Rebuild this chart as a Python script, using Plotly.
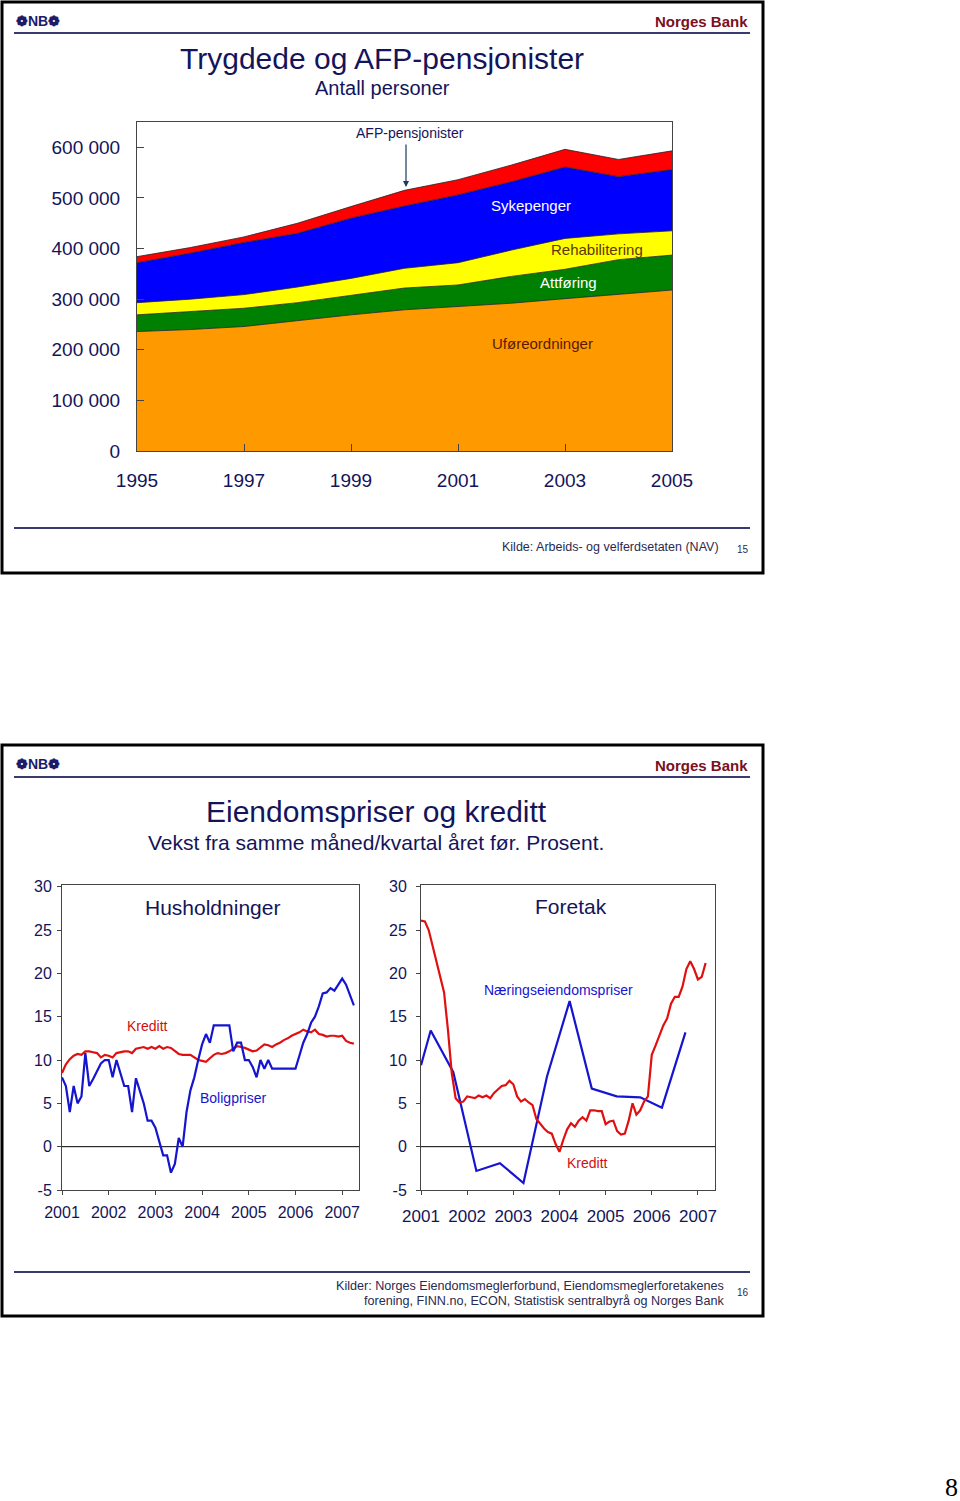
import plotly.graph_objects as go

W, H = 960, 1501

# ---------------- Data: chart 1 ----------------
years1 = [1995, 1996, 1997, 1998, 1999, 2000, 2001, 2002, 2003, 2004, 2005]
uforeordninger = [236000, 240000, 246000, 258000, 269000, 279000, 286000, 292000, 301000, 310000, 318000]
attforing = [33000, 36000, 36000, 35000, 38000, 43000, 42000, 53000, 58000, 68000, 69000]
rehabilitering = [24000, 24000, 27000, 31000, 34000, 39000, 44000, 52000, 61000, 51000, 48000]
sykepenger = [79000, 91000, 103000, 106000, 119000, 123000, 134000, 135000, 141000, 113000, 121000]
afp = [12000, 11000, 11000, 20000, 23000, 31000, 30000, 33000, 35000, 34000, 37000]
y1_ticks = [0, 100000, 200000, 300000, 400000, 500000, 600000]
y1_labels = ["0", "100 000", "200 000", "300 000", "400 000", "500 000", "600 000"]
x1_ticks = [1995, 1997, 1999, 2001, 2003, 2005]

# ---------------- Data: chart 2 (households, monthly from Jan 2001) ----------------
boligpriser = [8, 7, 4, 7, 5, 5.8, 10.8, 7, 7.8, 8.8, 9.6, 10, 10, 8, 10, 8.5, 7, 7, 4, 7.9,
               6.5, 5, 3, 3, 2.2, 0.5, -1, -1, -3, -2, 1, 0, 4, 6.5, 8, 10, 11.8, 13, 12, 14,
               14, 14, 14, 14, 11, 12, 12, 10, 10, 9.2, 8, 10, 9, 10, 9, 9, 9, 9, 9, 9,
               9, 10.5, 12, 13, 14.3, 15, 16.2, 17.7, 17.8, 18.3, 18, 18.7, 19.4, 18.7, 17.5, 16.3]
kreditt_hh = [8.5, 9.5, 10.1, 10.5, 10.7, 10.6, 11.0, 11.0, 10.9, 10.8, 10.3, 10.6, 10.5, 10.3, 10.8,
              10.9, 11.0, 11.0, 10.8, 11.3, 11.4, 11.5, 11.3, 11.5, 11.3, 11.6, 11.3, 11.5, 11.4, 11.0,
              10.7, 10.6, 10.6, 10.6, 10.3, 10.0, 9.9, 9.8, 10.2, 10.6, 10.8, 10.7, 10.8, 11.0, 11.3,
              11.6, 11.5, 11.4, 11.2, 11.0, 11.1, 11.4, 11.8, 11.7, 11.5, 11.8, 12.0, 12.3, 12.5, 12.8,
              13.0, 13.2, 13.5, 13.3, 13.2, 13.5, 13.0, 12.9, 12.7, 12.8, 12.8, 12.7, 12.8, 12.2, 12.0, 11.9]

# ---------------- Data: chart 3 (enterprises) ----------------
naering_x = [2001.0, 2001.21, 2001.70, 2002.20, 2002.71, 2003.22, 2003.73, 2004.22, 2004.70,
             2005.24, 2005.75, 2006.22, 2006.73]
naering = [9.4, 13.4, 8.6, -2.8, -1.9, -4.2, 8.1, 16.8, 6.7, 5.8, 5.7, 4.5, 13.2]
kreditt_ft = [26.1, 26.0, 25.0, 23.2, 21.5, 19.6, 17.8, 13.5, 8.5, 5.6, 5.1, 5.2, 5.8, 5.7, 5.6,
              5.9, 5.7, 5.9, 5.6, 6.2, 6.6, 7.0, 7.1, 7.6, 7.2, 5.8, 5.2, 5.5, 5.1, 4.8,
              3.2, 2.6, 2.1, 1.7, 1.5, 0.3, -0.6, 0.8, 2.0, 2.7, 2.3, 3.0, 3.4, 3.0, 4.2,
              4.2, 4.1, 4.1, 2.6, 2.9, 3.0, 1.8, 1.4, 1.5, 3.0, 5.0, 3.7, 4.2, 5.2, 5.8,
              10.6, 11.7, 12.8, 14.0, 14.8, 16.5, 17.3, 17.3, 18.5, 20.5, 21.4, 20.5, 19.3, 19.6, 21.2]
y2_ticks = [-5, 0, 5, 10, 15, 20, 25, 30]
y2_labels = ["-5", "0", "5", "10", "15", "20", "25", "30"]
x2_ticks = [2001, 2002, 2003, 2004, 2005, 2006, 2007]

months_hh = [2001 + i / 12 for i in range(len(boligpriser))]
months_ft = [2001 + i / 12 for i in range(len(kreditt_ft))]

NAVY = "#1c1c6b"
TXT = "#14145a"
DARKRED = "#7a1020"
FONT = "Liberation Sans, Arial, sans-serif"


def px(x):
    return x / W


def py(y):
    return 1 - y / H


fig = go.Figure()

# ---- stacked areas ----
stack = [
    ("Uføreordninger", uforeordninger, "#FF9900"),
    ("Attføring", attforing, "#008000"),
    ("Rehabilitering", rehabilitering, "#FFFF00"),
    ("Sykepenger", sykepenger, "#0000FF"),
    ("AFP-pensjonister", afp, "#FF0000"),
]
for name, vals, col in stack:
    fig.add_trace(go.Scatter(x=years1, y=vals, name=name, stackgroup="one", mode="lines",
                             line=dict(color="#222222", width=0.8), fillcolor=col,
                             xaxis="x", yaxis="y", showlegend=False, hoverinfo="skip"))

# ---- households ----
fig.add_trace(go.Scatter(x=[2001, 2007.36], y=[0, 0], mode="lines", line=dict(color="black", width=1),
                         xaxis="x2", yaxis="y2", showlegend=False, hoverinfo="skip"))
fig.add_trace(go.Scatter(x=months_hh, y=kreditt_hh, mode="lines", line=dict(color="#E01010", width=2.2),
                         xaxis="x2", yaxis="y2", showlegend=False, name="Kreditt"))
fig.add_trace(go.Scatter(x=months_hh, y=boligpriser, mode="lines", line=dict(color="#1515D0", width=2.2),
                         xaxis="x2", yaxis="y2", showlegend=False, name="Boligpriser"))

# ---- enterprises ----
fig.add_trace(go.Scatter(x=[2001, 2007.37], y=[0, 0], mode="lines", line=dict(color="black", width=1),
                         xaxis="x3", yaxis="y3", showlegend=False, hoverinfo="skip"))
fig.add_trace(go.Scatter(x=naering_x, y=naering, mode="lines", line=dict(color="#1515D0", width=2.2),
                         xaxis="x3", yaxis="y3", showlegend=False, name="Næringseiendomspriser"))
fig.add_trace(go.Scatter(x=months_ft, y=kreditt_ft, mode="lines", line=dict(color="#E01010", width=2.2),
                         xaxis="x3", yaxis="y3", showlegend=False, name="Kreditt"))

axis_common = dict(showgrid=False, zeroline=False, showline=True, linecolor="#444444", linewidth=1,
                   mirror=True, tickcolor="#444444", automargin=False)

fig.update_layout(
    width=W, height=H, margin=dict(l=0, r=0, t=0, b=0, pad=0, autoexpand=False),
    paper_bgcolor="white", plot_bgcolor="white",
    font=dict(family=FONT, color=TXT),
    xaxis=dict(domain=[px(137), px(672)], range=[1995, 2005], tickvals=x1_ticks,
               ticks="inside", ticklen=7, tickfont=dict(size=19, color=TXT, family=FONT),
               ticklabelstandoff=12, anchor="y", **axis_common),
    yaxis=dict(domain=[py(451), py(122)], range=[0, 650000], tickvals=y1_ticks, ticktext=y1_labels,
               ticks="inside", ticklen=7, tickfont=dict(size=19, color=TXT, family=FONT),
               ticklabelstandoff=12, anchor="x", **axis_common),
    xaxis2=dict(domain=[px(62), px(359)], range=[2001, 2007.36], tickvals=x2_ticks,
                ticks="outside", ticklen=4, tickfont=dict(size=16, color=TXT, family=FONT),
                ticklabelstandoff=4, anchor="y2", **axis_common),
    yaxis2=dict(domain=[py(1190), py(885)], range=[-5, 30.2], tickvals=y2_ticks, ticktext=y2_labels,
                ticks="outside", ticklen=4, tickfont=dict(size=16, color=TXT, family=FONT),
                ticklabelstandoff=2, anchor="x2", **axis_common),
    xaxis3=dict(domain=[px(421), px(715)], range=[2001, 2007.37], tickvals=x2_ticks,
                ticks="outside", ticklen=4, tickfont=dict(size=17, color=TXT, family=FONT),
                ticklabelstandoff=7, anchor="y3", **axis_common),
    yaxis3=dict(domain=[py(1190), py(885)], range=[-5, 30.2], tickvals=y2_ticks, ticktext=y2_labels,
                ticks="outside", ticklen=4, tickfont=dict(size=16, color=TXT, family=FONT),
                ticklabelstandoff=6, anchor="x3", **axis_common),
)

shapes = []
# slide frames
for top, bot in [(2, 573), (745, 1316)]:
    shapes.append(dict(type="rect", xref="paper", yref="paper", x0=px(2), x1=px(763), y0=py(bot), y1=py(top),
                       line=dict(color="black", width=3), layer="below"))
# header & footer lines
for yy in [33, 528, 777, 1272]:
    shapes.append(dict(type="line", xref="paper", yref="paper", x0=px(14), x1=px(750), y0=py(yy), y1=py(yy),
                       line=dict(color="#3a3a70", width=2)))
fig.update_layout(shapes=shapes)

ann = []


def text(x, y, s, size, color=TXT, xanchor="center", bold=False, family=FONT, yanchor="middle"):
    if bold:
        s = "<b>" + s + "</b>"
    ann.append(dict(xref="paper", yref="paper", x=px(x), y=py(y), text=s, showarrow=False,
                    font=dict(size=size, color=color, family=family), xanchor=xanchor, yanchor=yanchor))


for base in [0, 743]:
    text(14, 21 + base, "❁NB❁", 14, color=NAVY, xanchor="left", bold=True)
    text(750, 22 + base, "Norges Bank", 15, color=DARKRED, xanchor="right", bold=True)

# slide 1 texts
text(382, 58, "Trygdede og AFP-pensjonister", 30)
text(382, 88, "Antall personer", 20)
text(410, 133, "AFP-pensjonister", 14)
ann.append(dict(xref="paper", yref="paper", x=px(406), y=py(187), ax=0, ay=-44,
                axref="pixel", ayref="pixel", text="", showarrow=True, arrowhead=2, arrowsize=1,
                arrowwidth=1.2, arrowcolor="#1c3a5a"))
text(531, 205, "Sykepenger", 15, color="white")
text(597, 249, "Rehabilitering", 15, color="#5a3a00")
text(568, 282, "Attføring", 15, color="white")
text(542, 343, "Uføreordninger", 15, color="#5a1a00")
text(721, 547, "Kilde: Arbeids- og velferdsetaten (NAV)", 12.5, color="#2a2a50", xanchor="right")
text(743, 549, "15", 10, color="#2a2a50")

# slide 2 texts
text(376, 811, "Eiendomspriser og kreditt", 30)
text(376, 842, "Vekst fra samme måned/kvartal året før. Prosent.", 21)
text(212, 907, "Husholdninger", 21)
text(147, 1026, "Kreditt", 14, color="#D01010")
text(233, 1098, "Boligpriser", 14, color="#1515D0")
text(571, 906, "Foretak", 21)
text(558, 990, "Næringseiendomspriser", 14, color="#1515D0")
text(587, 1163, "Kreditt", 14, color="#D01010")
text(726, 1286, "Kilder: Norges Eiendomsmeglerforbund, Eiendomsmeglerforetakenes", 12.6, color="#2a2a50", xanchor="right")
text(726, 1301, "forening, FINN.no, ECON, Statistisk sentralbyrå og Norges Bank", 12.6, color="#2a2a50", xanchor="right")
text(743, 1292, "16", 10, color="#2a2a50")

# page number
text(951, 1487, "8", 26, color="black", family="Liberation Serif, DejaVu Serif, serif")

fig.update_layout(annotations=ann)
fig.write_html("out.html", config={"displayModeBar": False},
               post_script="document.body.style.margin='0';document.body.style.overflow='hidden';")
